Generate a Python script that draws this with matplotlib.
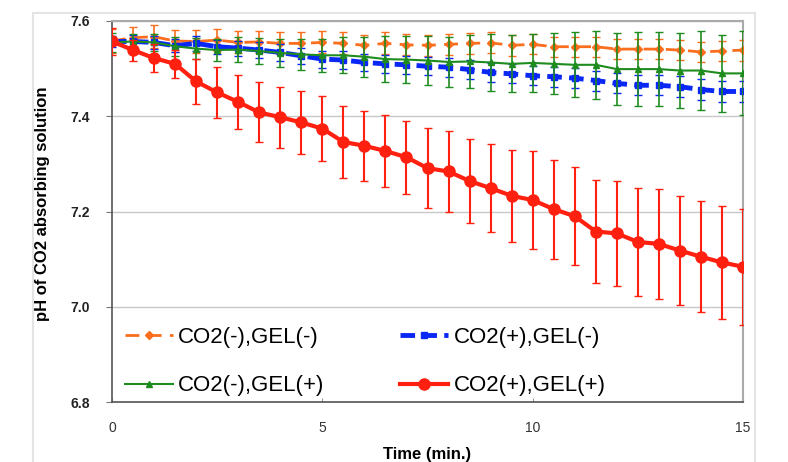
import numpy as np
import matplotlib.pyplot as plt
from matplotlib.patches import Rectangle
from matplotlib.lines import Line2D

plt.rcParams['font.family'] = ['Liberation Sans', 'DejaVu Sans']

# time points (min.)
time = [0, 0.5, 1, 1.5, 2, 2.5, 3, 3.5, 4, 4.5, 5, 5.5, 6, 6.5, 7, 7.5,
        8, 8.5, 9, 9.5, 10, 10.5, 11, 11.5, 12, 12.5, 13, 13.5, 14, 14.5, 15]

# CO2(-),GEL(-)
ph_nn = [7.558, 7.565, 7.567, 7.558, 7.557, 7.560, 7.555, 7.556, 7.553, 7.553,
         7.555, 7.553, 7.549, 7.553, 7.550, 7.549, 7.551, 7.553, 7.554, 7.549,
         7.551, 7.546, 7.546, 7.546, 7.541, 7.541, 7.541, 7.539, 7.535, 7.537, 7.539]
err_nn = [0.025, 0.023, 0.024, 0.024, 0.024, 0.024, 0.023, 0.023, 0.023, 0.023,
          0.023, 0.023, 0.022, 0.023, 0.022, 0.022, 0.022, 0.022, 0.022, 0.022,
          0.021, 0.021, 0.021, 0.021, 0.021, 0.021, 0.021, 0.021, 0.021, 0.021, 0.022]

# CO2(+),GEL(-)
ph_pn = [7.557, 7.557, 7.555, 7.548, 7.553, 7.546, 7.543, 7.539, 7.534, 7.527,
         7.520, 7.518, 7.513, 7.510, 7.508, 7.505, 7.503, 7.498, 7.492, 7.489,
         7.485, 7.483, 7.480, 7.475, 7.469, 7.465, 7.465, 7.462, 7.456, 7.452, 7.452]
err_pn = [0.012, 0.013, 0.014, 0.014, 0.015, 0.015, 0.016, 0.016, 0.017, 0.017,
          0.018, 0.018, 0.018, 0.019, 0.019, 0.019, 0.020, 0.020, 0.020, 0.020,
          0.020, 0.021, 0.021, 0.021, 0.021, 0.021, 0.021, 0.022, 0.022, 0.022, 0.022]

# CO2(-),GEL(+)
ph_np = [7.555, 7.557, 7.555, 7.547, 7.542, 7.539, 7.540, 7.537, 7.533, 7.530,
         7.528, 7.528, 7.525, 7.520, 7.519, 7.517, 7.514, 7.515, 7.513, 7.510,
         7.512, 7.510, 7.508, 7.508, 7.499, 7.499, 7.499, 7.496, 7.496, 7.490, 7.490]
err_np = [0.020, 0.015, 0.018, 0.020, 0.022, 0.024, 0.026, 0.028, 0.030, 0.032,
          0.035, 0.038, 0.042, 0.048, 0.050, 0.051, 0.052, 0.056, 0.059, 0.060,
          0.061, 0.064, 0.068, 0.072, 0.075, 0.077, 0.078, 0.079, 0.083, 0.081, 0.088]

# CO2(+),GEL(+)
ph_pp = [7.557, 7.539, 7.522, 7.510, 7.473, 7.450, 7.430, 7.408, 7.398, 7.387,
         7.374, 7.346, 7.338, 7.327, 7.314, 7.291, 7.284, 7.264, 7.249, 7.233,
         7.224, 7.205, 7.190, 7.158, 7.154, 7.136, 7.132, 7.118, 7.105, 7.093, 7.084]
err_pp = [0.028, 0.022, 0.030, 0.030, 0.047, 0.053, 0.056, 0.063, 0.064, 0.067,
          0.068, 0.075, 0.073, 0.076, 0.077, 0.084, 0.085, 0.088, 0.092, 0.096,
          0.102, 0.104, 0.103, 0.108, 0.110, 0.113, 0.115, 0.115, 0.117, 0.119, 0.122]

fig = plt.figure(figsize=(7.88, 4.62), dpi=100)
# light frame around the figure
fig.patches.append(Rectangle((33 / 788, -0.01), 722 / 788, 1 - 13 / 462 + 0.01,
                             transform=fig.transFigure, fill=False,
                             edgecolor='#e4e4e4', linewidth=1.5))
ax = fig.add_axes([112 / 788, 60 / 462, 631 / 788, 381 / 462])

styles = [
    # label, color, linestyle, linewidth, marker, markersize
    ('CO2(-),GEL(-)', '#fa6e1e', (0, (5, 3)), 2, 'D', 4),
    ('CO2(+),GEL(-)', '#0a28f5', (0, (3, 1.5)), 3.5, 's', 5),
    ('CO2(-),GEL(+)', '#1f8c1f', '-', 1.5, '^', 5),
    ('CO2(+),GEL(+)', '#ff2010', '-', 3, 'o', 8),
]
series = [(ph_nn, err_nn), (ph_pn, err_pn), (ph_np, err_np), (ph_pp, err_pp)]

handles = []
for (lab, c, ls, lw, mk, ms), (y, e) in zip(styles, series):
    elw = 1.5 if mk == 'o' else 1.2
    ax.errorbar(time, y, yerr=e, color=c, linestyle=ls, linewidth=lw,
                marker=mk, markersize=ms, elinewidth=elw, capsize=3,
                zorder=3 + len(handles))
    handles.append(Line2D([], [], color=c, linestyle=ls, linewidth=lw,
                          marker=mk, markersize=ms, label=lab))

ax.set_xlim(0, 15)
ax.set_ylim(6.8, 7.6)
ax.set_xticks([0, 5, 10, 15])
ax.set_yticks([6.8, 7.0, 7.2, 7.4, 7.6])
ax.set_yticklabels(['6.8', '7.0', '7.2', '7.4', '7.6'], fontweight='bold')
ax.tick_params(axis='x', direction='in', length=3, pad=14, labelsize=10,
               color='#999999', labelcolor='#333333')
ax.tick_params(axis='y', direction='out', length=4, pad=12, labelsize=10,
               color='#777777', labelcolor='#222222')
ax.grid(axis='y', color='#c8c8c8', linewidth=1)
ax.set_axisbelow(True)
for side in ['top', 'right']:
    ax.spines[side].set_color('#aaaaaa')
    ax.spines[side].set_linewidth(1.5)
for side in ['left', 'bottom']:
    ax.spines[side].set_color('#555555')
    ax.spines[side].set_linewidth(1.2)

ax.set_xlabel('Time (min.)', fontweight='bold', fontsize=12, labelpad=8)
ax.set_ylabel('pH of CO2 absorbing solution', fontweight='bold', fontsize=12)
ax.yaxis.set_label_coords(-0.098, 0.52)

order = [0, 2, 1, 3]
ax.legend([handles[i] for i in order], [handles[i].get_label() for i in order],
          ncol=2, loc='lower left', bbox_to_anchor=(0.02, 0.015),
          frameon=False, fontsize=16, handlelength=2.16, handletextpad=0.25,
          columnspacing=3.4, labelspacing=1.25, borderpad=0, borderaxespad=0)

plt.savefig('out.png', dpi=100)
